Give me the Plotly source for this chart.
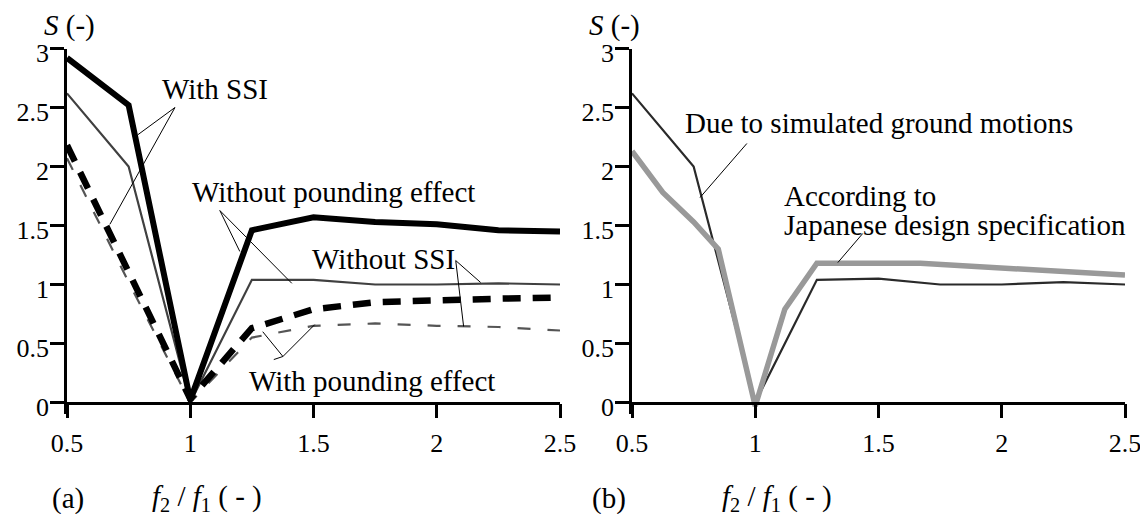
import plotly.graph_objects as go

# ---------------- data ----------------
ratio = [0.5, 0.75, 1.0, 1.25, 1.5, 1.75, 2.0, 2.25, 2.5]
with_ssi_no_pounding = [2.92, 2.52, 0.02, 1.46, 1.57, 1.53, 1.51, 1.46, 1.45]
without_ssi_no_pounding = [2.62, 2.0, 0.0, 1.04, 1.04, 1.0, 1.0, 1.01, 1.0]
with_ssi_pounding = [2.18, 1.1, 0.03, 0.63, 0.79, 0.85, 0.87, 0.88, 0.89]
without_ssi_pounding = [2.07, 1.02, 0.0, 0.55, 0.65, 0.67, 0.65, 0.64, 0.61]

simulated = [2.62, 2.0, 0.0, 1.04, 1.05, 1.0, 1.0, 1.02, 1.0]
design_ratio = [0.5, 0.625, 0.75, 0.85, 1.0, 1.12, 1.25, 1.67, 2.5]
design_spec = [2.13, 1.78, 1.53, 1.3, -0.03, 0.79, 1.18, 1.18, 1.08]

y_ticks = [0, 0.5, 1, 1.5, 2, 2.5, 3]
y_ticktext = ["0", "0.5", "1", "1.5", "2", "2.5", "3"]
x_ticks = [0.5, 1, 1.5, 2, 2.5]
x_ticktext = ["0.5", "1", "1.5", "2", "2.5"]

FONT = "Liberation Serif"
W, H = 1148, 514
OFF = 8  # page body margin in the browser


def px(x):
    return (x - OFF) / W


def py(y):
    return 1 - (y - OFF) / H


fig = go.Figure()

# ---- panel (a) ----
fig.add_trace(go.Scatter(x=ratio, y=without_ssi_pounding, mode="lines",
                         line=dict(color="#555555", width=2.2, dash="13px,17px"),
                         xaxis="x", yaxis="y", showlegend=False))
fig.add_trace(go.Scatter(x=ratio, y=without_ssi_no_pounding, mode="lines",
                         line=dict(color="#404040", width=2.2),
                         xaxis="x", yaxis="y", showlegend=False))
fig.add_trace(go.Scatter(x=ratio, y=with_ssi_pounding, mode="lines",
                         line=dict(color="#000000", width=6.5, dash="18px,12px"),
                         xaxis="x", yaxis="y", showlegend=False))
fig.add_trace(go.Scatter(x=ratio, y=with_ssi_no_pounding, mode="lines",
                         line=dict(color="#000000", width=6),
                         xaxis="x", yaxis="y", showlegend=False))

# ---- panel (b) ----
fig.add_trace(go.Scatter(x=ratio, y=simulated, mode="lines",
                         line=dict(color="#2a2a2a", width=2.2),
                         xaxis="x2", yaxis="y2", showlegend=False))
fig.add_trace(go.Scatter(x=design_ratio, y=design_spec, mode="lines",
                         line=dict(color="#999999", width=5.5),
                         xaxis="x2", yaxis="y2", showlegend=False))

YDOM = [py(414.3), py(48.5)]
XPOS = py(402.5)


def xax(domain):
    return dict(domain=domain, range=[0.5, 2.5], anchor="free", position=XPOS,
                automargin=False,
                showline=True, linecolor="black", linewidth=2.5,
                ticks="outside", ticklen=14, tickwidth=2.5, tickcolor="black",
                tickvals=x_ticks, ticktext=x_ticktext,
                ticklabelstandoff=3,
                tickfont=dict(family=FONT, size=26, color="black"),
                showgrid=False, zeroline=False)


def yax(anchor):
    return dict(domain=YDOM, range=[-0.1, 3], anchor=anchor,
                automargin=False,
                showline=True, linecolor="black", linewidth=2.5,
                ticks="outside", ticklen=14, tickwidth=2.5, tickcolor="black",
                tickvals=y_ticks, ticktext=y_ticktext,
                ticklabelstandoff=-4, ticklabelshift=4,
                tickfont=dict(family=FONT, size=26, color="black"),
                showgrid=False, zeroline=False)


# leader lines
leaders_a = [
    ((0.938, 2.50), (0.788, 2.27)),
    ((0.938, 2.50), (0.674, 1.51)),
    ((1.120, 1.627), (1.201, 1.28)),
    ((1.120, 1.627), (1.412, 1.01)),
    ((2.077, 1.203), (2.178, 1.017)),
    ((2.077, 1.203), (2.109, 0.644)),
    ((1.376, 0.39), (1.294, 0.60)),
    ((1.376, 0.39), (1.505, 0.66)),
    ((1.376, 0.39), (1.339, 0.364)),
]
leaders_b = [
    ((0.966, 2.195), (0.776, 1.737)),
    ((1.436, 1.432), (1.335, 1.186)),
]
shapes = []
for (p0, p1) in leaders_a:
    shapes.append(dict(type="line", xref="x", yref="y", x0=p0[0], y0=p0[1],
                       x1=p1[0], y1=p1[1], line=dict(color="black", width=1)))
for (p0, p1) in leaders_b:
    shapes.append(dict(type="line", xref="x2", yref="y2", x0=p0[0], y0=p0[1],
                       x1=p1[0], y1=p1[1], line=dict(color="black", width=1)))


def txt(x, y, text, xref, yref, xanchor="left", size=29):
    return dict(x=x, y=y, xref=xref, yref=yref, text=text, showarrow=False,
                xanchor=xanchor, yanchor="middle",
                font=dict(family=FONT, size=size, color="black"))


frac = "<i>f</i><sub>2</sub> / <i>f</i><sub>1</sub> ( - )"
annotations = [
    txt(1.100, 2.653, "With SSI", "x", "y", xanchor="center"),
    txt(0.999, 1.788, "Without pounding effect", "x", "y"),
    txt(1.485, 1.212, "Without SSI", "x", "y"),
    txt(1.230, 0.186, "With pounding effect", "x", "y"),
    txt(0.707, 2.37, "Due to simulated ground motions", "x2", "y2"),
    txt(1.108, 1.746, "According to", "x2", "y2"),
    txt(1.108, 1.50, "Japanese design specification", "x2", "y2"),
    txt(px(42), py(26), "<i>S</i> (-)", "paper", "paper"),
    txt(px(587), py(26), "<i>S</i> (-)", "paper", "paper"),
    txt(px(50), py(498), "(a)", "paper", "paper"),
    txt(px(150), py(498), frac, "paper", "paper"),
    txt(px(590), py(498), "(b)", "paper", "paper"),
    txt(px(720), py(498), frac, "paper", "paper"),
]

fig.update_layout(
    template="none",
    width=W, height=H,
    margin=dict(l=0, r=0, t=0, b=0, pad=0, autoexpand=False),
    paper_bgcolor="white", plot_bgcolor="white",
    xaxis=xax([px(67), px(560)]),
    yaxis=yax("x"),
    xaxis2=xax([px(632), px(1125)]),
    yaxis2=yax("x2"),
    shapes=shapes,
    annotations=annotations,
    font=dict(family=FONT, color="black"),
)

fig.write_html("out.html")
